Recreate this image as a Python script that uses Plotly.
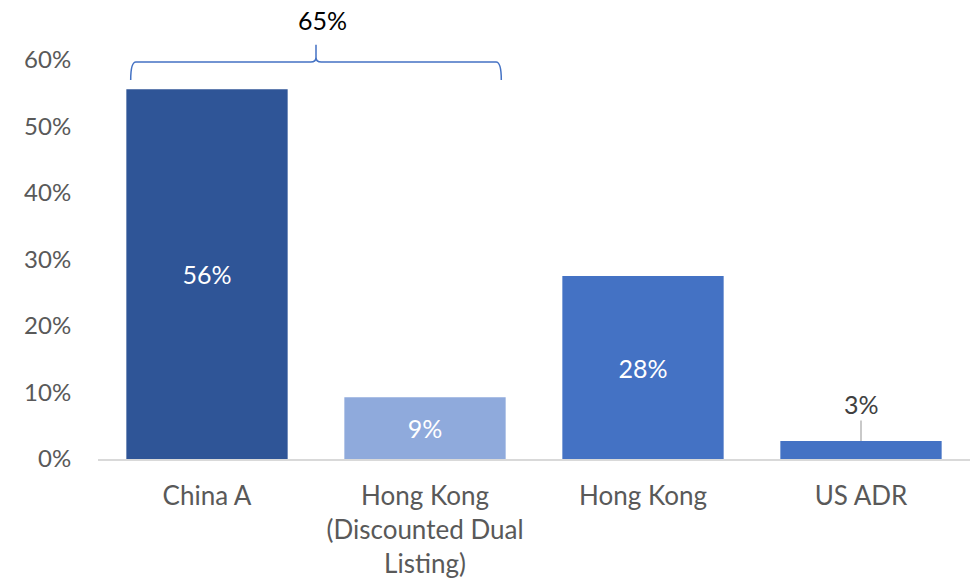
import plotly.graph_objects as go

# Share of holdings by listing venue
categories = ["China A", "Hong Kong (Discounted Dual Listing)", "Hong Kong", "US ADR"]
tick_labels = ["China A", "Hong Kong<br>(Discounted Dual<br>Listing)", "Hong Kong", "US ADR"]
shares = [0.556, 0.093, 0.275, 0.027]
bar_colors = ["#2F5597", "#8FAADC", "#4472C4", "#4472C4"]
label_colors = ["white", "white", "white", "#404040"]
y_ticks = [0, 0.1, 0.2, 0.3, 0.4, 0.5, 0.6]
y_tick_text = ["0%", "10%", "20%", "30%", "40%", "50%", "60%"]

# first two categories are grouped under one bracket
bracket_total = shares[0] + shares[1]

FONT = "Lato, 'Open Sans', sans-serif"
Y_MAX = 0.6
N = len(categories)

fig = go.Figure()
inside = [s > 0.05 for s in shares]
fig.add_trace(go.Bar(
    x=list(range(N)),
    y=shares,
    width=0.74,
    marker=dict(color=bar_colors, line=dict(width=0)),
    text=[f"{s:.0%}" if ins else "" for s, ins in zip(shares, inside)],
    textposition="inside",
    insidetextanchor="middle",
    textfont=dict(family=FONT, size=25, color=label_colors),
    hoverinfo="skip",
))

# small value label with a leader line for the short bar
for i, (s, ins) in enumerate(zip(shares, inside)):
    if not ins:
        fig.add_annotation(
            x=i, y=s, xref="x", yref="y",
            text=f"{s:.0%}", showarrow=True, arrowhead=0, arrowwidth=1.2,
            arrowcolor="#A6A6A6", ax=0, ay=-37, standoff=0,
            font=dict(family=FONT, size=25, color="#404040"),
        )


def px(cat):
    return (cat + 0.5) / N


def py(v):
    return v / Y_MAX


# curly bracket over the first two bars
xl, xr = px(-0.35), px(1.35)
xm = (xl + xr) / 2
yh, ye, yp = py(0.597), py(0.57), py(0.623)
r = 0.006
dy = 0.012
path = (
    f"M {xl},{ye} Q {xl},{yh} {xl + r},{yh} "
    f"L {xm - r},{yh} Q {xm},{yh} {xm},{yh + dy} L {xm},{yp} "
    f"M {xm},{yh + dy} Q {xm},{yh} {xm + r},{yh} "
    f"L {xr - r},{yh} Q {xr},{yh} {xr},{ye}"
)
fig.add_shape(type="path", xref="paper", yref="paper", path=path,
              line=dict(color="#4472C4", width=1.5))
fig.add_annotation(
    x=xm, y=py(0.66), xref="paper", yref="paper", xshift=6,
    xanchor="center", yanchor="middle",
    text=f"{bracket_total:.0%}", showarrow=False,
    font=dict(family=FONT, size=25, color="#000000"),
)

fig.update_layout(
    width=973, height=585,
    margin=dict(l=98, r=3, t=60, b=126),
    paper_bgcolor="white", plot_bgcolor="white",
    showlegend=False,
    bargap=0.26,
    xaxis=dict(
        range=[-0.5, N - 0.5],
        tickmode="array", tickvals=list(range(N)), ticktext=tick_labels,
        tickfont=dict(family=FONT, size=26, color="#595959"),
        showgrid=False, zeroline=False,
        showline=True, linecolor="#D9D9D9", linewidth=1.5,
        ticks="outside", ticklen=13, tickcolor="rgba(0,0,0,0)",
    ),
    yaxis=dict(
        range=[0, Y_MAX],
        tickmode="array", tickvals=y_ticks, ticktext=y_tick_text,
        tickfont=dict(family=FONT, size=24, color="#595959"),
        showgrid=False, zeroline=False, showline=False,
        ticks="outside", ticklen=21, tickcolor="rgba(0,0,0,0)",
    ),
)

fig.write_html("out.html")
